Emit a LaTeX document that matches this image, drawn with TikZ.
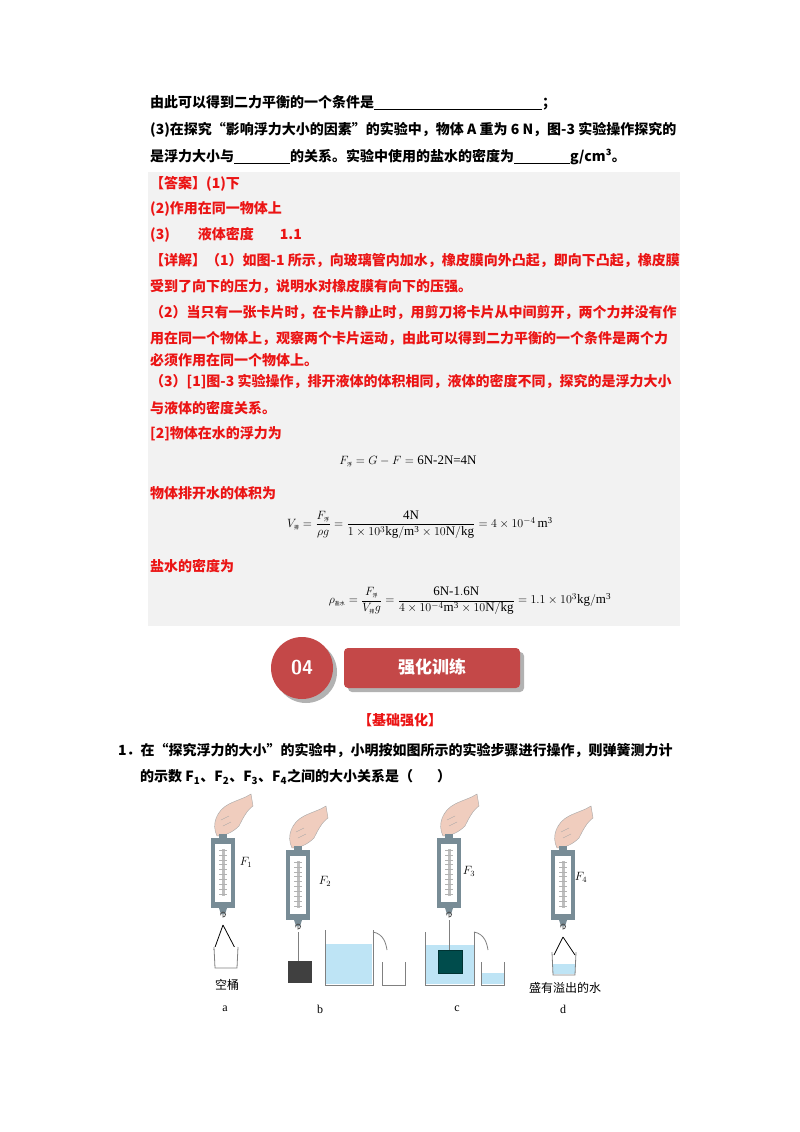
\documentclass[tikz,border=0pt]{standalone}
\usepackage{fontspec}
\usepackage{amsmath}
\setmainfont{Liberation Serif}
\newfontfamily\cjk{Noto Sans CJK SC}
\usetikzlibrary{positioning}

\definecolor{ansred}{RGB}{235,20,20}
\definecolor{boxgray}{RGB}{242,242,242}
\definecolor{bannerred}{RGB}{196,72,72}
\definecolor{scalegray}{RGB}{120,140,150}
\definecolor{water}{RGB}{190,228,245}
\definecolor{skin}{RGB}{240,205,190}

\tikzset{
  txt/.style={anchor=west, inner sep=0pt, font=\fontsize{14}{16}\selectfont\bfseries\cjk},
  ans/.style={txt, text=ansred},
  eq/.style={inner sep=0pt, font=\fontsize{13}{15}\selectfont},
  lab/.style={inner sep=0pt, font=\fontsize{12}{14}\selectfont},
  cup/.style={draw=gray, thick, fill=white},
}

% spring scale: centre x, top y, body height
\newcommand{\springscale}[3]{
  \begin{scope}[shift={(#1,#2)}]
  \fill[skin, draw=gray!70] (-6,2) .. controls (-12,-10) and (-6,-24) .. (6,-30)
    .. controls (14,-34) and (22,-36) .. (28,-40)
    -- (30,-28) .. controls (24,-24) and (20,-16) .. (16,-8)
    .. controls (10,-2) and (2,2) .. cycle;
  \draw[gray!70] (-2,-14) -- (6,-18) (0,-8) -- (8,-12);
  \fill[scalegray] (-4,0) rectangle (4,5);
  \fill[scalegray] (-12,4) rectangle ({12},{4+#3});
  \fill[white] (-8,10) rectangle ({8},{#3-2});
  \fill[gray!50] (-1.5,15) rectangle ({1.5},{#3-8});
  \foreach \k in {0,...,9} \draw[gray!60] ({-4},{16+\k*(#3-26)/9}) -- ({4},{16+\k*(#3-26)/9});
  \fill[scalegray] ({-4},{4+#3}) -- ({4},{4+#3}) -- ({2},{10+#3}) -- ({-2},{10+#3}) -- cycle;
  \draw[gray!60!black, thick] ({0},{10+#3}) -- ({0},{13+#3}) arc (90:-200:2.5);
  \end{scope}
}

\begin{document}
\begin{tikzpicture}[x=1pt,y=-1pt]
\useasboundingbox (0,0) rectangle (800,1132);
\fill[white] (0,0) rectangle (800,1132);

% question text
\node[txt] (q1) at (150,103) {由此可以得到二力平衡的一个条件是\underline{\hspace{168pt}}；};
\node[txt] (q2) at (150,130) {(3)在探究“影响浮力大小的因素”的实验中，物体 A 重为 6 N，图-3 实验操作探究的};
\node[txt] (q3) at (150,157) {是浮力大小与\underline{\hspace{56pt}}的关系。实验中使用的盐水的密度为\underline{\hspace{56pt}}g/cm³。};

% answer box
\fill[boxgray] (148,172) rectangle (680,626);
\node[ans] (a1) at (150,184) {【答案】(1)下};
\node[ans] (a2) at (150,209) {(2)作用在同一物体上};
\node[ans] (a3) at (150,235) {(3)\hspace{28pt}液体密度\hspace{26pt}1.1};
\node[ans] (a4) at (150,261) {【详解】（1）如图-1 所示，向玻璃管内加水，橡皮膜向外凸起，即向下凸起，橡皮膜};
\node[ans] (a5) at (150,287) {受到了向下的压力，说明水对橡皮膜有向下的压强。};
\node[ans] (a6) at (150,313) {（2）当只有一张卡片时，在卡片静止时，用剪刀将卡片从中间剪开，两个力并没有作};
\node[ans] (a7) at (150,339) {用在同一个物体上，观察两个卡片运动，由此可以得到二力平衡的一个条件是两个力};
\node[ans] (a8) at (150,360) {必须作用在同一个物体上。};
\node[ans] (a9) at (150,382) {（3）[1]图-3 实验操作，排开液体的体积相同，液体的密度不同，探究的是浮力大小};
\node[ans] (a10) at (150,408) {与液体的密度关系。};
\node[ans] (a11) at (150,434) {[2]物体在水的浮力为};
\node[eq] (e1) at (408,461) {$F_{\text{\cjk\tiny 浮}}=G-F=\mathrm{6N\text{-}2N\text{=}4N}$};
\node[ans] (a12) at (150,493) {物体排开水的体积为};
\node[eq] (e2) at (420,525) {$V_{\text{\cjk\tiny 排}}=\dfrac{F_{\text{\cjk\tiny 浮}}}{\rho g}=\dfrac{\mathrm{4N}}{1\times10^3\mathrm{kg/m^3}\times10\mathrm{N/kg}}=4\times10^{-4}\,\mathrm{m^3}$};
\node[ans] (a13) at (150,566) {盐水的密度为};
\node[eq] (e3) at (470,601) {$\rho_{\text{\cjk\tiny 盐水}}=\dfrac{F_{\text{\cjk\tiny 浮}}}{V_{\text{\cjk\tiny 排}}g}=\dfrac{\mathrm{6N\text{-}1.6N}}{4\times10^{-4}\mathrm{m^3}\times10\mathrm{N/kg}}=1.1\times10^3\mathrm{kg/m^3}$};

% banner
\fill[gray!60] (306,672) circle (31);
\fill[bannerred] (302,668) circle (31);
\fill[gray!60, rounded corners=4] (348,652) rectangle (524,692);
\fill[bannerred, rounded corners=4] (344,648) rectangle (520,688);
\node[font=\fontsize{20}{22}\selectfont\bfseries\sffamily, text=white] (num) at (302,668) {04};
\node[font=\fontsize{17}{19}\selectfont\bfseries\cjk, text=white] (ttl) at (432,667) {强化训练};

\node[txt, anchor=center, text=ansred] (sub) at (400,720) {【基础强化】};
\node[txt] (p1) at (118,750) {1．在“探究浮力的大小”的实验中，小明按如图所示的实验步骤进行操作，则弹簧测力计};
\node[txt] (p2) at (140,777) {的示数 \textit{F}\textsubscript{1}、\textit{F}\textsubscript{2}、\textit{F}\textsubscript{3}、\textit{F}\textsubscript{4}之间的大小关系是（\hspace{24pt}）};

% figure
\springscale{223}{834}{70}
\springscale{298}{846}{70}
\springscale{449}{834}{70}
\springscale{563}{846}{70}

% a: empty bucket
\draw[thick] (223,925) -- (214,950) (223,925) -- (236,950);
\draw[cup] (214,947) -- (215,968) -- (237,968) -- (238,947);
\node[lab, font=\fontsize{12}{14}\selectfont\cjk] (ta) at (227,985) {空桶};
% b: block and jug
\draw[gray] (298,932) -- (298,961);
\fill[black!75] (288,961) rectangle (312,983);
\fill[water] (326,944) rectangle (372,984);
\draw[gray, thick] (325,930) -- (325,985) -- (373,985) -- (373,930);
\draw[gray, thick] (373,932) .. controls (384,934) and (386,944) .. (387,950);
\draw[cup] (382,962) -- (382,985) -- (405,985) -- (405,962);
% c: block in jug
\fill[water] (425,945) rectangle (474,984);
\draw[gray, thick] (425,932) -- (425,985) -- (474,985) -- (474,932);
\draw[gray, thick] (474,932) .. controls (485,934) and (487,944) .. (488,950);
\draw[gray] (449,920) -- (449,950);
\fill[teal!60!black, draw=teal!40!black] (438,950) rectangle (462,973);
\fill[water] (481,973) rectangle (504,984);
\draw[gray, thick] (481,962) -- (481,985) -- (504,985) -- (504,962);
% d: bucket with water
\draw[thick] (563,937) -- (554,955) (563,937) -- (575,955);
\fill[water] (553,964) rectangle (575,974);
\draw[gray, thick] (552,952) -- (553,975) -- (575,975) -- (576,952);
\node[lab, font=\fontsize{12}{14}\selectfont\cjk] (td) at (565,988) {盛有溢出的水};

\node[lab] (F1) at (246,862) {$F_1$};
\node[lab] (F2) at (325,881) {$F_2$};
\node[lab] (F3) at (469,871) {$F_3$};
\node[lab] (F4) at (581,877) {$F_4$};
\node[lab] (la) at (225,1009) {a};
\node[lab] (lb) at (320,1009) {b};
\node[lab] (lc) at (457,1009) {c};
\node[lab] (ld) at (563,1009) {d};
\end{tikzpicture}
\end{document}
